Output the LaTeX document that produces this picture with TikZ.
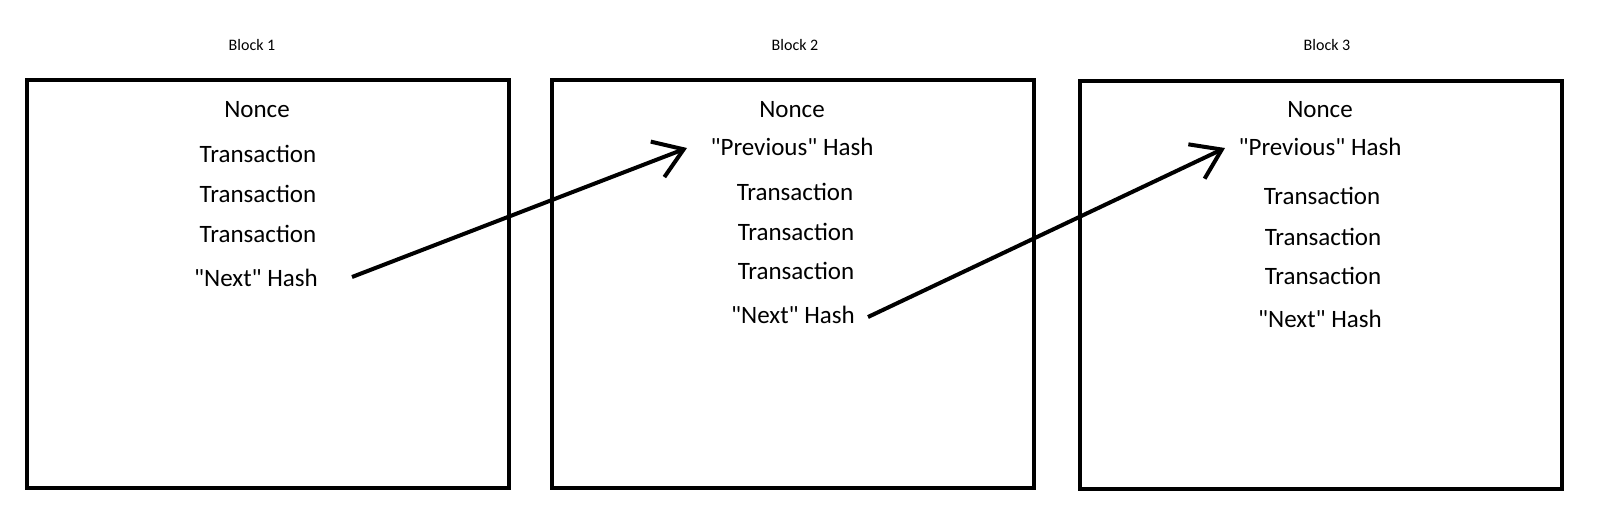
\documentclass[tikz,border=0pt]{standalone}
\usepackage{fontspec}
\setmainfont{Carlito}
\usetikzlibrary{arrows.meta}
\tikzstyle{blockbox}=[draw, line width=4pt, minimum width=482pt, minimum height=408pt, inner sep=0pt]
\tikzstyle{entry}=[font=\fontsize{25}{30}\selectfont, inner sep=0pt]
\tikzstyle{blocktitle}=[font=\fontsize{16}{19}\selectfont, inner sep=0pt]
\tikzstyle{link}=[-{Straight Barb[length=28pt, width=38pt]}, line width=4pt]
\newcommand{\qq}[1]{\textquotedbl#1\textquotedbl}

\begin{document}
\begin{tikzpicture}[x=1pt, y=-1pt]
            \useasboundingbox (0, 0) rectangle (1600, 523);
            \node[blockbox] (block1) at (268, 284) {};
            \node[blockbox] (block2) at (793, 284) {};
            \node[blockbox] (block3) at (1321, 285) {};
            \node[blocktitle] (title1) at (252, 45) {Block 1};
            \node[blocktitle] (title2) at (795, 45) {Block 2};
            \node[blocktitle] (title3) at (1327, 45) {Block 3};
            % block 1
            \node[entry] (nonce1) at (257, 110) {Nonce};
            \node[entry] (tx1a) at (258, 154) {Transaction};
            \node[entry] (tx1b) at (258, 194) {Transaction};
            \node[entry] (tx1c) at (258, 234) {Transaction};
            \node[entry] (next1) at (256, 278) {\qq{Next} Hash};
            % block 2
            \node[entry] (nonce2) at (792, 110) {Nonce};
            \node[entry] (prev2) at (792, 147) {\qq{Previous} Hash};
            \node[entry] (tx2a) at (795, 192) {Transaction};
            \node[entry] (tx2b) at (796, 232) {Transaction};
            \node[entry] (tx2c) at (796, 271) {Transaction};
            \node[entry] (next2) at (793, 315) {\qq{Next} Hash};
            % block 3
            \node[entry] (nonce3) at (1320, 110) {Nonce};
            \node[entry] (prev3) at (1320, 147) {\qq{Previous} Hash};
            \node[entry] (tx3a) at (1322, 196) {Transaction};
            \node[entry] (tx3b) at (1323, 237) {Transaction};
            \node[entry] (tx3c) at (1323, 276) {Transaction};
            \node[entry] (next3) at (1320, 319) {\qq{Next} Hash};
            % links
            \coordinate (out1) at (352, 277);
            \coordinate (in2) at (687, 148);
            \coordinate (out2) at (868, 317);
            \coordinate (in3) at (1225, 148);
            \draw[link] (out1) -- (in2);
            \draw[link] (out2) -- (in3);
        \end{tikzpicture}
\end{document}
